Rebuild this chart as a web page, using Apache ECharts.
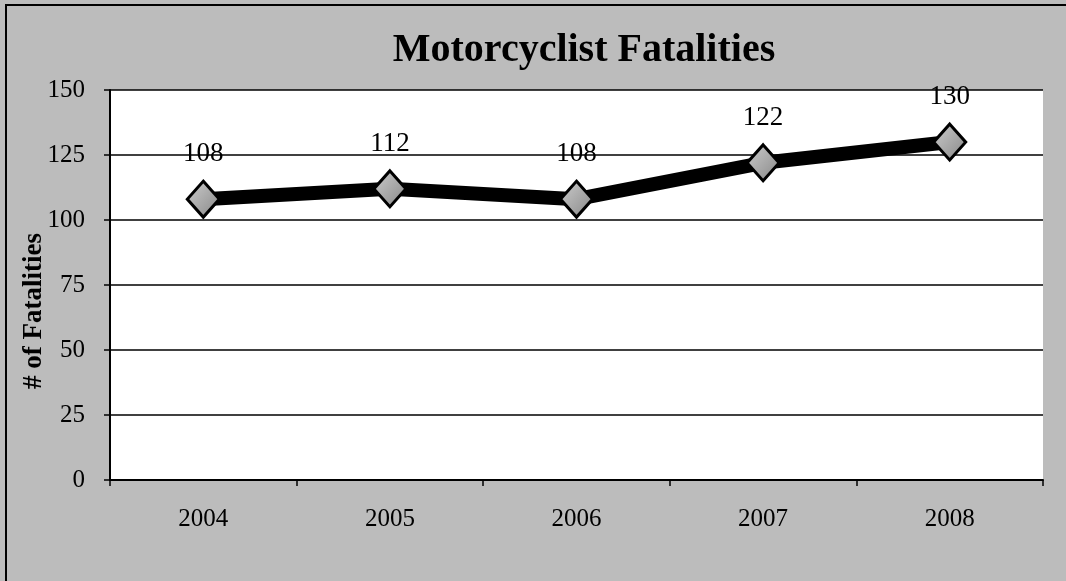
<!DOCTYPE html>
<html><head><meta charset="utf-8">
<script src="https://cdn.jsdelivr.net/npm/echarts@6/dist/echarts.min.js"></script>
<style>html,body{margin:0;padding:0;background:#bcbcbc}#c{width:1066px;height:581px}</style>
</head><body><div id="c"></div>
<script>
const years = ['2004','2005','2006','2007','2008'];
const fatalities = [108, 112, 108, 122, 130];
const yTicks = {min: 0, max: 150, interval: 25};
const yName = '# of Fatalities';

const chart = echarts.init(document.getElementById('c'));
chart.setOption({
  backgroundColor: '#bcbcbc',
  animation: false,
  title: {
    text: 'Motorcyclist Fatalities',
    left: 579, top: 26, textAlign: 'center',
    textStyle: {fontFamily: 'Liberation Serif', fontWeight: 'bold', fontSize: 40, color: '#000'}
  },
  graphic: [{
    type: 'rect', shape: {x: 6, y: 5, width: 1080, height: 600},
    style: {fill: 'none', stroke: '#000', lineWidth: 2}, silent: true
  }, {
    type: 'text', x: 34, y: 311, rotation: Math.PI / 2,
    style: {text: yName, fontFamily: 'Liberation Serif', fontWeight: 'bold', fontSize: 27,
      fill: '#000', align: 'center', verticalAlign: 'middle'}, silent: true
  }],
  grid: {left: 110, right: 23, top: 90, bottom: 101, show: true, backgroundColor: '#fff', borderWidth: 0},
  xAxis: {
    type: 'category', data: years, boundaryGap: true,
    axisLine: {lineStyle: {color: '#000', width: 2}},
    axisTick: {show: true, length: 6, lineStyle: {color: '#000', width: 1.5}},
    axisLabel: {fontFamily: 'Liberation Serif', fontSize: 25, color: '#000', margin: 27}
  },
  yAxis: {
    type: 'value', min: yTicks.min, max: yTicks.max, interval: yTicks.interval,
    axisLine: {show: true, lineStyle: {color: '#000', width: 2}},
    axisTick: {show: true, length: 6, lineStyle: {color: '#000', width: 1.5}},
    splitLine: {lineStyle: {color: '#000', width: 1.5}},
    axisLabel: {fontFamily: 'Liberation Serif', fontSize: 25, color: '#000', margin: 25}
  },
  series: [{
    type: 'line', data: fatalities,
    lineStyle: {color: '#000', width: 14},
    symbol: 'diamond', symbolSize: [32, 36],
    itemStyle: {
      color: new echarts.graphic.LinearGradient(0, 0, 1, 1, [
        {offset: 0, color: '#cfcfcf'}, {offset: 1, color: '#858585'}
      ]),
      borderColor: '#000', borderWidth: 3
    },
    label: {show: true, position: 'top', distance: 12,
      fontFamily: 'Liberation Serif', fontSize: 27, color: '#000'}
  }]
});
</script></body></html>
